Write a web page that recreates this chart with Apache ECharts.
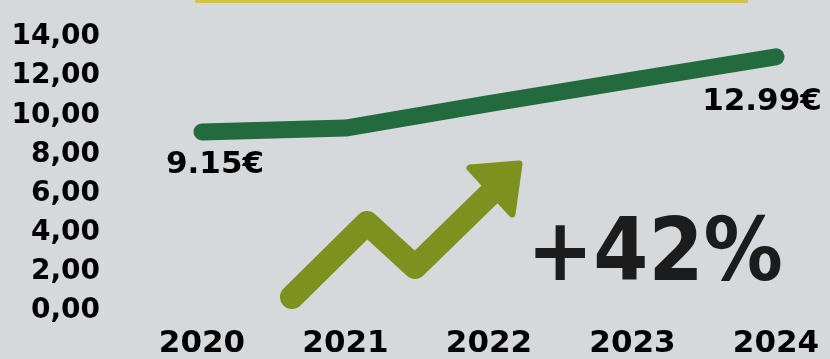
<!DOCTYPE html>
<html>
<head>
<meta charset="utf-8">
<script src="https://cdn.jsdelivr.net/npm/echarts@6/dist/echarts.min.js"></script>
<style>
  html, body { margin: 0; padding: 0; background: #d5d9dc; }
  #chart { width: 830px; height: 359px; }
</style>
</head>
<body>
<div id="chart"></div>
<script>
// Average price per year
const categories = ['2020', '2021', '2022', '2023', '2024'];
const prices = [9.15, 9.35, 10.6, 11.8, 12.99];
const yTickLabels = ['0,00', '2,00', '4,00', '6,00', '8,00', '10,00', '12,00', '14,00'];
const growthText = '+42%';

const FONT = '"DejaVu Sans", sans-serif';

const last = prices.length - 1;
const labelStyle = {
  show: true,
  position: 'inside',
  color: '#000',
  fontFamily: FONT,
  fontWeight: 'bold',
  fontSize: 31,
  formatter: p => p.value.toFixed(2) + '€'
};
const seriesData = prices.map((v, i) => {
  if (i === 0) return { value: v, label: Object.assign({}, labelStyle, { offset: [13, 33] }) };
  if (i === last) return { value: v, label: Object.assign({}, labelStyle, { offset: [-14, 45] }) };
  return { value: v, label: { show: false } };
});

const chart = echarts.init(document.getElementById('chart'), null, { renderer: 'canvas' });
chart.setOption({
  backgroundColor: '#d5d9dc',
  animation: false,
  grid: { left: 202, right: 54, top: 37, bottom: 40 },
  xAxis: {
    type: 'category',
    data: categories,
    boundaryGap: false,
    axisLine: { show: false },
    axisTick: { show: false },
    axisLabel: {
      margin: 17,
      color: '#000',
      fontFamily: FONT,
      fontWeight: 'bold',
      fontSize: 31
    }
  },
  yAxis: {
    type: 'value',
    min: 0,
    max: 14,
    interval: 2,
    splitLine: { show: false },
    axisLine: { show: false },
    axisTick: { show: false },
    axisLabel: {
      margin: 102,
      color: '#000',
      fontFamily: FONT,
      fontWeight: 'bold',
      fontSize: 28,
      formatter: v => yTickLabels[Math.round(v / 2)]
    }
  },
  series: [{
    type: 'line',
    data: seriesData,
    symbol: 'circle',
    symbolSize: 0,
    showSymbol: true,
    lineStyle: { color: '#236b3f', width: 17, cap: 'round', join: 'round' },
    itemStyle: { color: '#236b3f' },
    z: 3
  }],
  graphic: [
    // thin accent bar along the top edge
    { type: 'rect', shape: { x: 195, y: 0, width: 553, height: 3 }, style: { fill: '#d3c24c' } },
    // zig-zag growth arrow
    {
      type: 'polyline',
      shape: { points: [[292, 297], [367, 223], [415, 267], [495, 189]] },
      style: { stroke: '#7e901d', lineWidth: 24, lineCap: 'round', lineJoin: 'round', fill: null }
    },
    {
      type: 'polygon',
      shape: { points: [[470, 168], [519, 164], [512, 214]] },
      style: { fill: '#7e901d', stroke: '#7e901d', lineWidth: 7, lineJoin: 'round' }
    },
    // headline growth figure
    {
      type: 'text',
      x: 527,
      y: 257,
      scaleX: 0.9,
      style: {
        text: growthText,
        font: 'bold 88px ' + FONT,
        fill: '#1c1c1c',
        textAlign: 'left',
        textVerticalAlign: 'middle'
      }
    }
  ]
});
</script>
</body>
</html>
